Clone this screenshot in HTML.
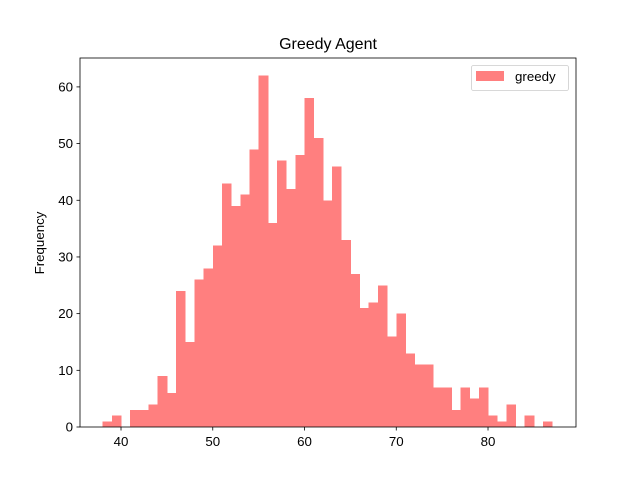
<!DOCTYPE html>
<html><head><meta charset="utf-8"><style>body{margin:0;background:#fff}svg{font-family:"Liberation Sans","DejaVu Sans",sans-serif}</style></head>
<body>
<svg id="c" width="640" height="480"></svg>
<script>
const binStarts=[38,39,40,41,42,43,44,45,46,47,48,49,50,51,52,53,54,55,56,57,58,59,60,61,62,63,64,65,66,67,68,69,70,71,72,73,74,75,76,77,78,79,80,81,82,83,84,85,86];
const counts=[1,2,0,3,3,4,9,6,24,15,26,28,32,43,39,41,49,62,36,47,42,48,58,51,40,46,33,27,21,22,25,16,20,13,11,11,7,7,3,7,5,7,2,1,4,0,2,0,1];
const binWidth=1;
const xTicks=[40,50,60,70,80];
const yTicks=[0,10,20,30,40,50,60];
const L=80,R=576,T=58,B=427;
const xMin=35.53,xMax=89.59,yMax=65.1;
const sx=v=>L+(v-xMin)/(xMax-xMin)*(R-L);
const sy=v=>B-v/yMax*(B-T);
const svg=document.getElementById('c');const NS='http://www.w3.org/2000/svg';
function mk(t,a,txt){const e=document.createElementNS(NS,t);for(const k in a)e.setAttribute(k,a[k]);if(txt!=null)e.textContent=txt;svg.appendChild(e);return e;}
binStarts.forEach((b,i)=>{if(!counts[i])return;
const r=mk('rect',{x:sx(b),y:sy(counts[i]),width:sx(b+binWidth)-sx(b)+0.5,height:B-sy(counts[i]),fill:'#ff7f7f','shape-rendering':'crispEdges'});

});
const f=mk('rect',{x:L,y:T,width:R-L,height:B-T,fill:'none',stroke:'#000','stroke-width':0.8});


xTicks.forEach(v=>{mk('line',{x1:sx(v),x2:sx(v),y1:B,y2:B+3.5,stroke:'#000','stroke-width':0.8});
const t=mk('text',{x:sx(v),y:B+19,'text-anchor':'middle','font-size':13.3},v);

});
yTicks.forEach(v=>{mk('line',{x1:L,x2:L-3.5,y1:sy(v),y2:sy(v),stroke:'#000','stroke-width':0.8});
const t=mk('text',{x:L-7,y:sy(v)+4.5,'text-anchor':'end','font-size':13.3},v);

});
const yt=mk('text',{x:0,y:0,transform:'translate(44,243) rotate(-90)','text-anchor':'middle','font-size':13.3},'Frequency');


const tt=mk('text',{x:328,y:49,'text-anchor':'middle','font-size':16},'Greedy Agent');


const lg=mk('rect',{x:471.5,y:65.5,width:97,height:25,rx:2,fill:'#fff',stroke:'#ccc','stroke-width':0.8});


const ls=mk('rect',{x:476,y:71,width:28,height:10,fill:'#ff7f7f'});


const lt=mk('text',{x:515,y:81,'font-size':13.3},'greedy');


</script>
</body></html>
